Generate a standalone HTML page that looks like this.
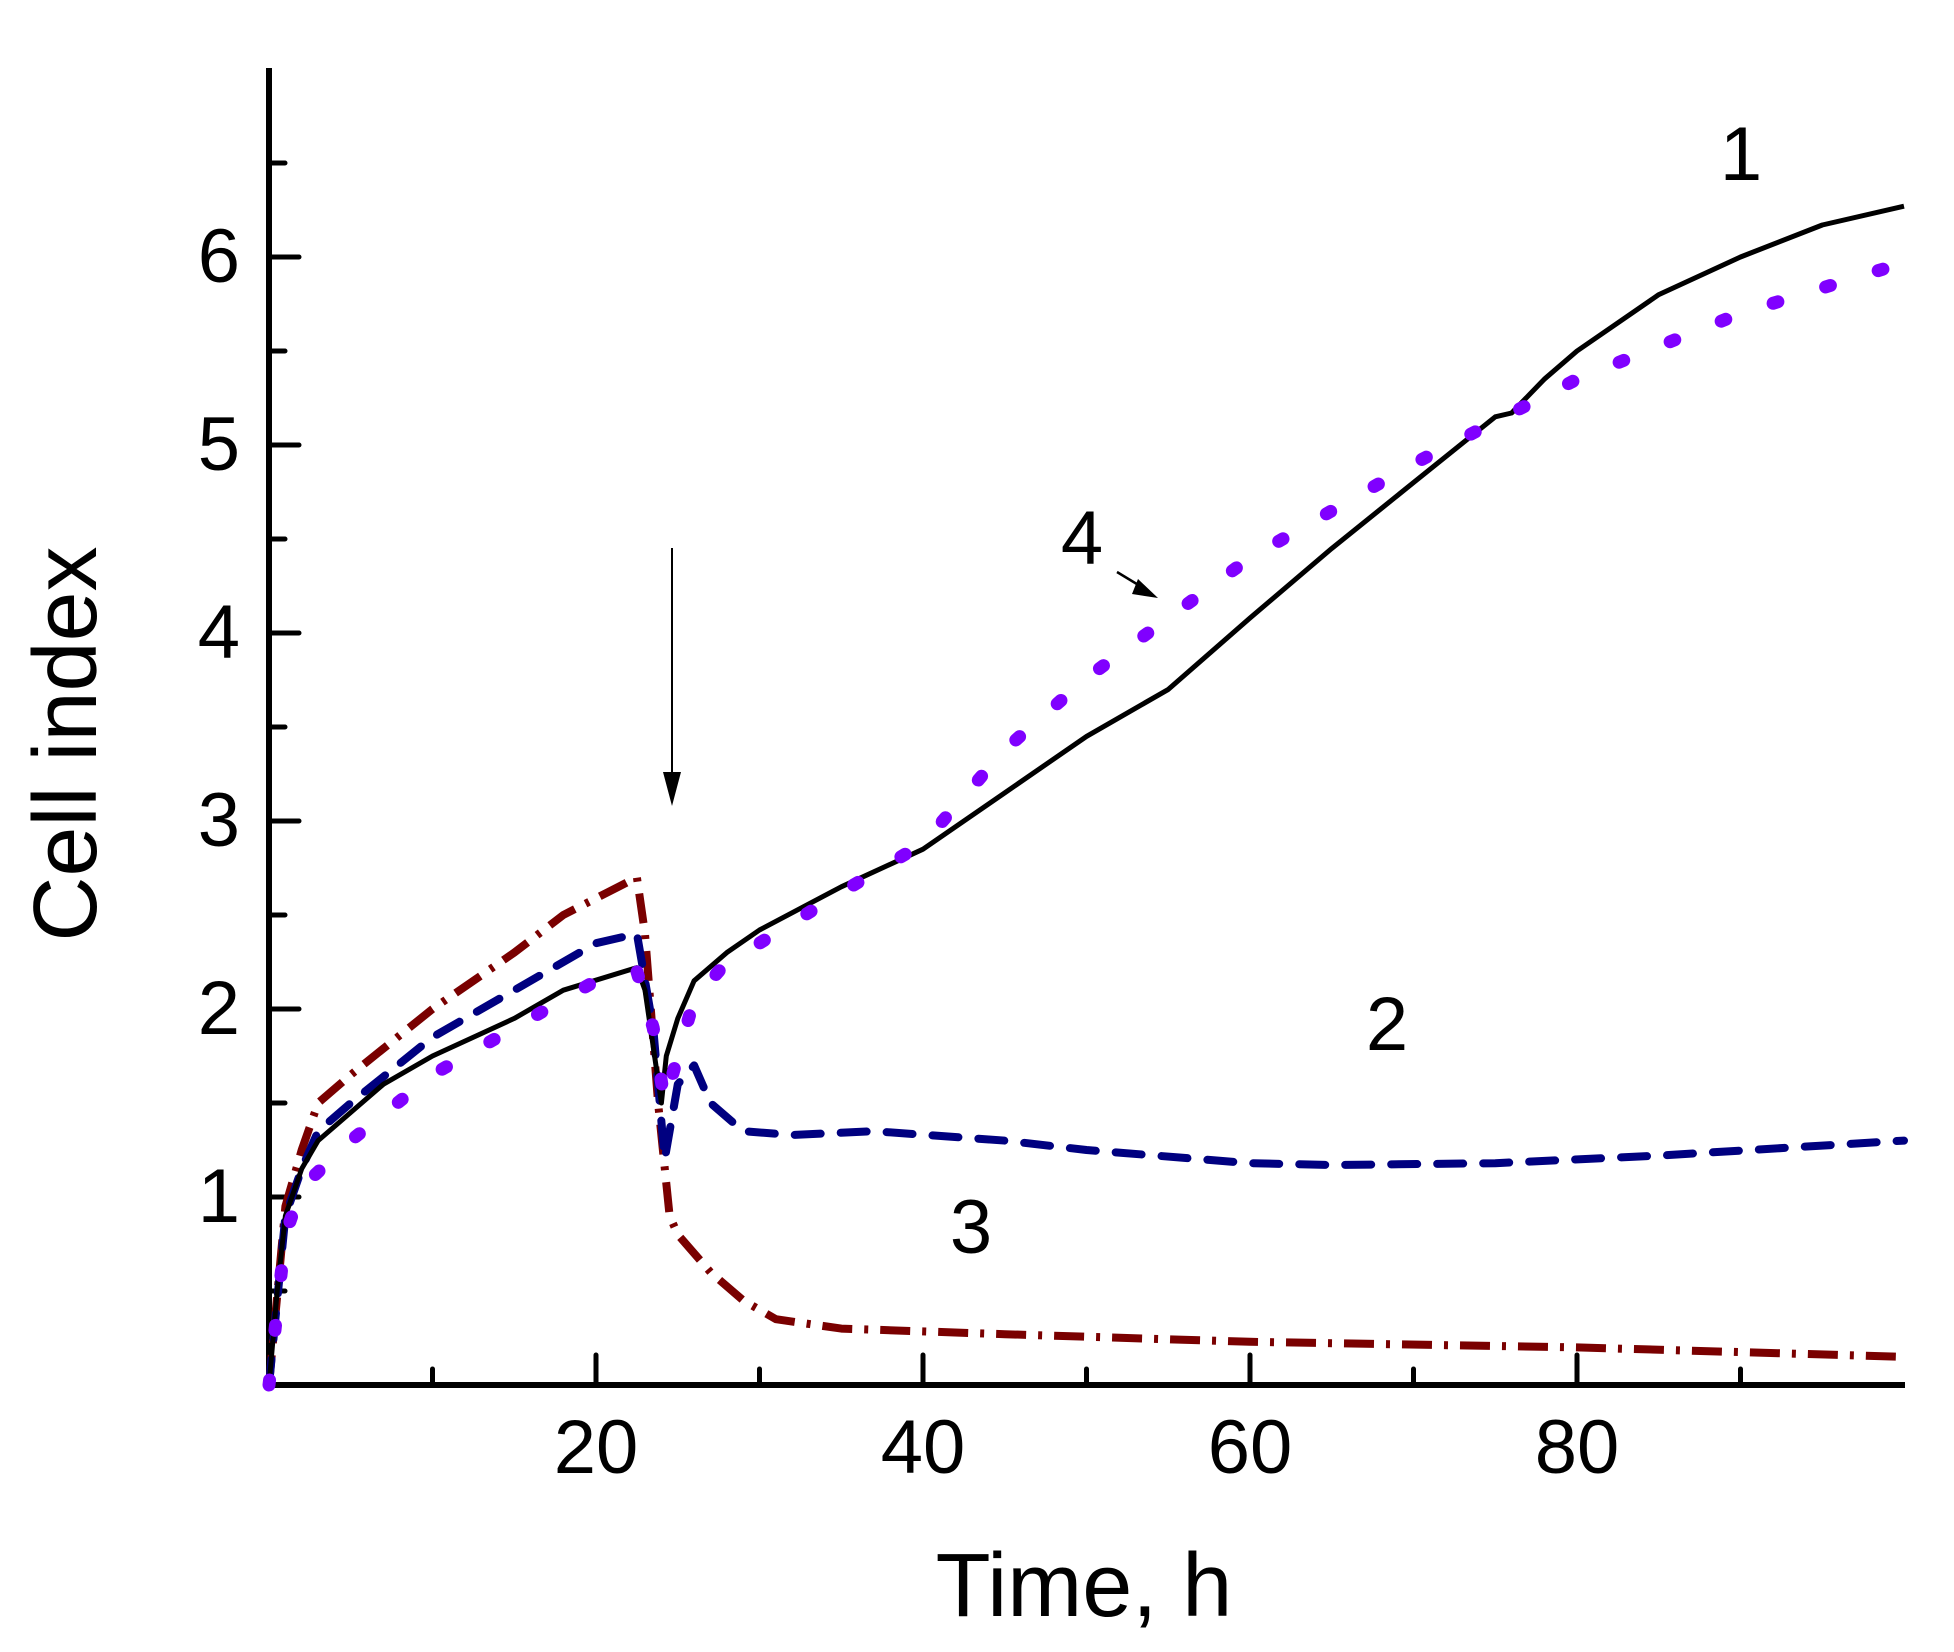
<!DOCTYPE html>
<html><head><meta charset="utf-8"><style>
html,body{margin:0;padding:0;background:#fff;}
svg{display:block;}
text{font-family:"Liberation Sans",Arial,sans-serif;fill:#000;}
</style></head><body>
<svg id="s" width="1954" height="1652" viewBox="0 0 1954 1652" xmlns="http://www.w3.org/2000/svg">
<g id="ticks" stroke="#000" stroke-width="5" stroke-linecap="round"></g>
<line x1="269" y1="68" x2="269" y2="1385" stroke="#000" stroke-width="6"/>
<line x1="267" y1="1385" x2="1905" y2="1385" stroke="#000" stroke-width="6"/>
<g font-size="76" text-anchor="end">
<text x="240" y="1222">1</text><text x="240" y="1034">2</text><text x="240" y="846">3</text>
<text x="240" y="658">4</text><text x="240" y="470">5</text><text x="240" y="282">6</text>
</g>
<g font-size="76" text-anchor="middle">
<text x="596" y="1473">20</text><text x="923" y="1473">40</text><text x="1250" y="1473">60</text><text x="1577" y="1473">80</text>
</g>
<text x="1084" y="1616" font-size="90" text-anchor="middle">Time, h</text>
<text transform="translate(96,744) rotate(-90)" font-size="90" text-anchor="middle">Cell index</text>
<g id="curves" fill="none" stroke-linejoin="round"></g>
<line x1="672" y1="548" x2="672" y2="785" stroke="#000" stroke-width="2"/>
<polygon points="663,772 681,772 672,806" fill="#000"/>
<line x1="1117" y1="572" x2="1145" y2="589" stroke="#000" stroke-width="2.5"/>
<polygon points="1138,579 1132,594 1158,598" fill="#000"/>
<g font-size="76" text-anchor="middle">
<text x="1741" y="180">1</text><text x="1387" y="1050">2</text><text x="971" y="1253">3</text><text x="1082" y="564">4</text>
</g>
</svg>
<script>
var X=function(t){return 269+16.35*t;},Y=function(v){return 1385-188*v;};
var tk=document.getElementById('ticks'),h='';
for(var v=0.5;v<7;v+=0.5){var L=(Math.abs(v-Math.round(v))<0.01)?30:16;h+='<line x1="269" y1="'+Y(v)+'" x2="'+(269+L)+'" y2="'+Y(v)+'"/>';}
for(var t=10;t<=90;t+=10){var L=(t%20==0)?30:16;h+='<line x1="'+X(t)+'" y1="1385" x2="'+X(t)+'" y2="'+(1385-L)+'"/>';}
tk.innerHTML=h;
function pts(a){var s=[];for(var i=0;i<a.length;i+=2)s.push(X(a[i]).toFixed(1)+','+Y(a[i+1]).toFixed(1));return s.join(' ');}
var c1=[0,0,0.5,0.5,1,0.9,2,1.15,3,1.3,5,1.45,7,1.6,10,1.75,15,1.95,18,2.1,22.5,2.22,23,2.1,24,1.5,24.3,1.75,25,1.95,26,2.15,28,2.3,30,2.42,35,2.65,40,2.85,45,3.15,50,3.45,55,3.7,60,4.08,65,4.45,70,4.8,75,5.15,76,5.17,78,5.35,80,5.5,85,5.8,90,6.0,95,6.17,100,6.27];
var c4=[0,0,1,0.8,2,1.05,5,1.3,10,1.65,15,1.9,20,2.15,22.5,2.2,23.5,1.9,24.2,1.5,25,1.75,26,2.05,28,2.25,30,2.35,35,2.62,40,2.88,45,3.38,50,3.76,55,4.08,60,4.4,70,4.9,80,5.35,90,5.7,100,5.97];
var c2=[0,0,1,0.9,2,1.15,3,1.35,5,1.5,10,1.85,15,2.1,20,2.35,22.5,2.4,23.5,1.9,24.2,1.2,25,1.6,26,1.7,27,1.5,29,1.35,32,1.33,37,1.35,45,1.3,50,1.25,60,1.18,65,1.17,75,1.18,85,1.22,100,1.3];
var c3=[0,0,1,0.95,2,1.25,3,1.5,5,1.65,10,2.0,15,2.3,18,2.5,22.5,2.7,23,2.4,23.8,1.5,24.5,0.9,25,0.8,27,0.6,29,0.45,31,0.35,35,0.3,45,0.27,60,0.23,80,0.2,100,0.15];
document.getElementById('curves').innerHTML=
'<polyline points="'+pts(c3)+'" stroke="#7a0000" stroke-width="8" stroke-dasharray="30 12 4 12"/>'+
'<polyline points="'+pts(c2)+'" stroke="#000080" stroke-width="8" stroke-linecap="round" stroke-dasharray="26 20"/>'+
'<polyline points="'+pts(c1)+'" stroke="#000" stroke-width="5"/>'+
'<polyline points="'+pts(c4)+'" stroke="#8000ff" stroke-width="13" stroke-linecap="round" stroke-dasharray="5 50"/>';
</script>
</body></html>
